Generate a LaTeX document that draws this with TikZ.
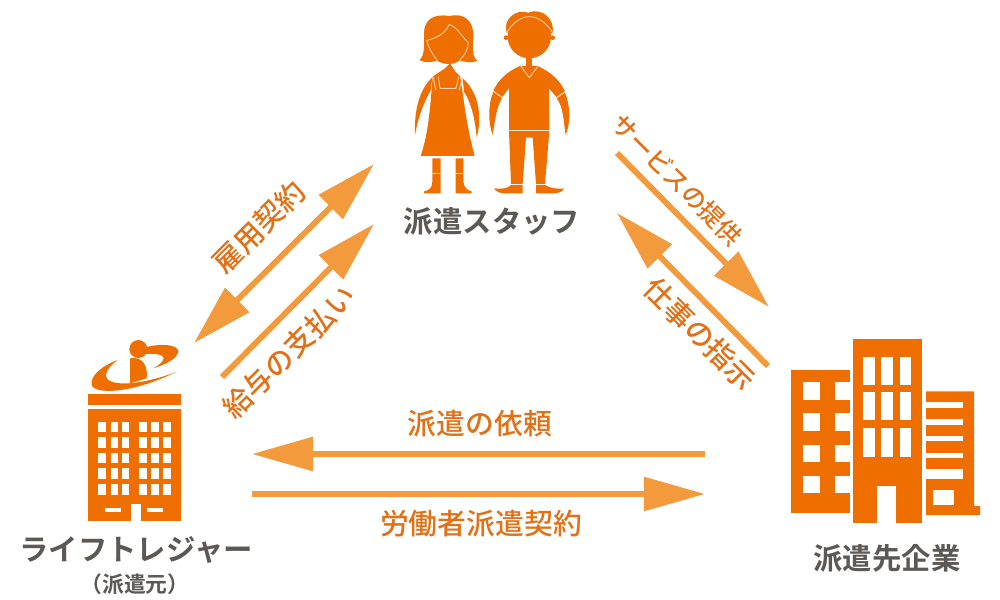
\documentclass[tikz,border=0pt]{standalone}
\usepackage{fontspec}
\setmainfont{Noto Sans CJK JP}[UprightFont={* Medium},BoldFont={* Bold}]
\usetikzlibrary{arrows.meta}
\definecolor{O}{RGB}{239, 110, 0}
\definecolor{A}{RGB}{243, 154, 60}
\definecolor{T}{RGB}{226, 112, 22}
\definecolor{K}{RGB}{92, 88, 85}
\definecolor{L}{RGB}{255, 205, 160}
\tikzset{
	flow/.style={draw=A, line width=0.058cm, -{Triangle[length=0.61cm,width=0.33cm,fill=A]}},
	flowboth/.style={flow, {Triangle[length=0.61cm,width=0.33cm,fill=A]}-{Triangle[length=0.61cm,width=0.33cm,fill=A]}},
	actor/.style={font=\bfseries\fontsize{8.35}{10}\selectfont, text=K, inner sep=0},
	deal/.style={font=\fontsize{8.2}{10}\selectfont, text=T, inner sep=0},
	seam/.style={draw=L, line width=0.009cm}
}

\begin{document}
\begin{tikzpicture}[x=0.01cm, y=-0.01cm]
	\useasboundingbox (0,0) rectangle (1000,600);

	%Mujer
	\begin{scope}[shift={(400,0)}, scale=1/3]
		\fill[O] (58,180) .. controls (75,170) and (72,130) .. (72,100) .. controls (72,60) and (100,40) .. (148,48) .. controls (190,38) and (222,60) .. (220,110) .. controls (218,140) and (215,170) .. (232,182) .. controls (215,190) and (195,188) .. (172,178) -- (118,178) .. controls (100,188) and (75,190) .. (58,180) -- cycle;
		\fill[O] (145,130) ellipse (62 and 62);
		\fill[O] (150,190) -- (166,215) -- (180,228) .. controls (190,280) and (195,360) .. (224,468) -- (62,468) .. controls (85,400) and (90,330) .. (98,230) -- (135,205) -- cycle;
		\fill[O] (97,232) .. controls (55,270) and (42,340) .. (45,405) .. controls (55,350) and (70,310) .. (92,272) -- cycle;
		\fill[O] (188,235) .. controls (235,275) and (248,350) .. (230,412) .. controls (225,360) and (215,310) .. (192,275) -- cycle;
		\fill[O] (97,475) -- (122,475) -- (122,580) -- (72,580) -- (72,574) .. controls (85,572) and (97,565) .. (97,545) -- cycle;
		\fill[O] (167,475) -- (190,475) -- (190,545) .. controls (192,565) and (205,572) .. (215,574) -- (215,580) -- (167,580) -- cycle;
		\draw[seam] (80,122) .. controls (100,115) and (130,110) .. (148,73) .. controls (175,85) and (185,110) .. (205,128);
		\draw[seam] (80,122) .. controls (85,145) and (100,165) .. (112,182);
		\draw[seam] (205,128) .. controls (205,150) and (190,170) .. (178,182);
		\draw[seam] (100,232) -- (107,270) (115,230) -- (120,265) -- (168,265) -- (176,230) (187,232) -- (178,270);
		\draw[seam] (97,520) -- (122,520) (167,520) -- (190,520);
	\end{scope}

	%Hombre
	\begin{scope}[shift={(400,0)}, scale=1/3]
		\fill[O] (320,98) .. controls (308,60) and (345,25) .. (385,38) .. controls (425,22) and (465,55) .. (458,100) -- cycle;
		\fill[O] (388,110) ellipse (65 and 65);
		\fill[O] (318,113) circle (7) (458,113) circle (7);
		\fill[O] (377,170) -- (396,170) -- (396,205) -- (377,205) -- cycle;
		\fill[O] (360,198) .. controls (320,215) and (295,240) .. (280,272) -- (306,292) -- (327,265) -- (327,390) -- (447,390) -- (447,265) -- (470,292) -- (495,275) .. controls (480,240) and (450,215) .. (413,198) -- cycle;
		\fill[O] (280,275) .. controls (263,315) and (265,370) .. (278,405) .. controls (285,360) and (290,320) .. (306,295) -- cycle;
		\fill[O] (495,278) .. controls (512,320) and (512,370) .. (497,405) .. controls (490,360) and (490,320) .. (470,295) -- cycle;
		\fill[O] (327,393) -- (448,393) -- (435,552) -- (408,552) -- (398,413) -- (378,413) -- (368,552) -- (333,552) -- cycle;
		\fill[O] (333,555) -- (368,555) -- (368,580) -- (310,580) .. controls (295,578) and (285,572) .. (283,565) .. controls (305,568) and (325,565) .. (333,555) -- cycle;
		\fill[O] (408,555) -- (435,555) .. controls (450,565) and (470,567) .. (492,566) .. controls (490,572) and (480,578) .. (465,580) -- (408,580) -- cycle;
		\draw[seam] (320,98) .. controls (340,65) and (365,50) .. (388,50) .. controls (415,50) and (440,70) .. (458,98);
		\draw[seam] (362,198) -- (388,233) -- (413,200);
		\draw[seam] (280,273) -- (306,292) (470,292) -- (495,275);
	\end{scope}

	%Edificio izquierdo con el logo
	\begin{scope}[shift={(70,330)}, scale=1/3]
		\fill[O] (143,90) .. controls (90,110) and (60,140) .. (65,165) .. controls (75,195) and (190,190) .. (320,125) .. controls (260,150) and (150,175) .. (115,150) .. controls (100,135) and (110,115) .. (143,90) -- cycle;
		\fill[O] (205,57) circle (27);
		\fill[O] (180,160) -- (180,85) .. controls (215,78) and (235,105) .. (230,145) -- cycle;
		\fill[O] (225,52) .. controls (270,40) and (325,42) .. (325,65) .. controls (320,90) and (280,105) .. (250,115) .. controls (290,92) and (300,68) .. (225,72) -- cycle;
		\fill[O] (55,192) rectangle (333,225);
		\fill[O] (55,237) rectangle (333,573);
		\foreach \xa/\xb in {85/108, 122/145, 156/178, 207/230, 244/266, 280/302}
			\foreach \ya/\yb in {275/307, 321/354, 368/400, 414/447, 461/494}
				\fill[white] (\xa,\ya) rectangle (\xb,\yb);
		\fill[white] (182,523) rectangle (212,573);
		\fill[white] (104,533) rectangle (153,545);
		\fill[white] (232,533) rectangle (280,545);
	\end{scope}

	%Edificios derecha
	\begin{scope}[shift={(780,330)}, scale=1/3]
		\fill[O] (33,120) rectangle (210,548);
		\foreach \ya/\yb in {157/209, 250/302, 345/397, 437/489}{
			\fill[white] (69,\ya) rectangle (121,\yb);
			\fill[white] (165,\ya) rectangle (211,\yb);
		}
		\fill[O] (219,28) rectangle (425,578);
		\foreach \xa/\xb in {250/284, 304/338, 359/393}
			\foreach \ya/\yb in {80/164, 186/270, 295/380}
				\fill[white] (\xa,\ya) rectangle (\xb,\yb);
		\fill[white] (290,468) rectangle (349,579);
		\fill[O] (438,184) -- (582,184) -- (582,528) -- (600,528) -- (600,555) -- (438,555) -- cycle;
		\foreach \ya/\yb in {217/235, 268/286, 319/334, 369/384, 418/448}
			\fill[white] (437,\ya) rectangle (548,\yb);
		\fill[white] (458,480) rectangle (522,526);
	\end{scope}

	%Nombres
	\node[actor] (staff) at (492,221) {派遣スタッフ};
	\node[actor] (life) at (136,550) {ライフトレジャー};
	\node[actor, font=\bfseries\fontsize{6.2}{8}\selectfont] (moto) at (135,584) {（派遣元）};
	\node[actor] (saki) at (887,558) {派遣先企業};

	%Flechas
	\coordinate (k1) at (194,343);
	\coordinate (k2) at (374,164);
	\coordinate (p1) at (222,377);
	\coordinate (p2) at (374,224);
	\coordinate (s1) at (617,153);
	\coordinate (s2) at (769,307);
	\coordinate (h1) at (768,366);
	\coordinate (h2) at (617,213);
	\coordinate (i1) at (705,454);
	\coordinate (i2) at (252,454);
	\coordinate (r1) at (252,494);
	\coordinate (r2) at (705,494);
	\draw[flowboth] (k1) -- (k2);
	\draw[flow] (p1) -- (p2);
	\draw[flow] (s1) -- (s2);
	\draw[flow] (h1) -- (h2);
	\draw[flow] (i1) -- (i2);
	\draw[flow] (r1) -- (r2);

	%Textos de las flechas
	\node[deal, rotate=45] (koyo) at (259,227) {雇用契約};
	\node[deal, rotate=45] (kyuyo) at (289,352) {給与の支払い};
	\node[deal, rotate=-45, font=\fontsize{7}{9}\selectfont] (serv) at (677,180) {サービスの提供};
	\node[deal, rotate=-45] (shiji) at (700,334) {仕事の指示};
	\node[deal] (irai) at (480,424) {派遣の依頼};
	\node[deal] (rodo) at (481,524) {労働者派遣契約};
\end{tikzpicture}
\end{document}
